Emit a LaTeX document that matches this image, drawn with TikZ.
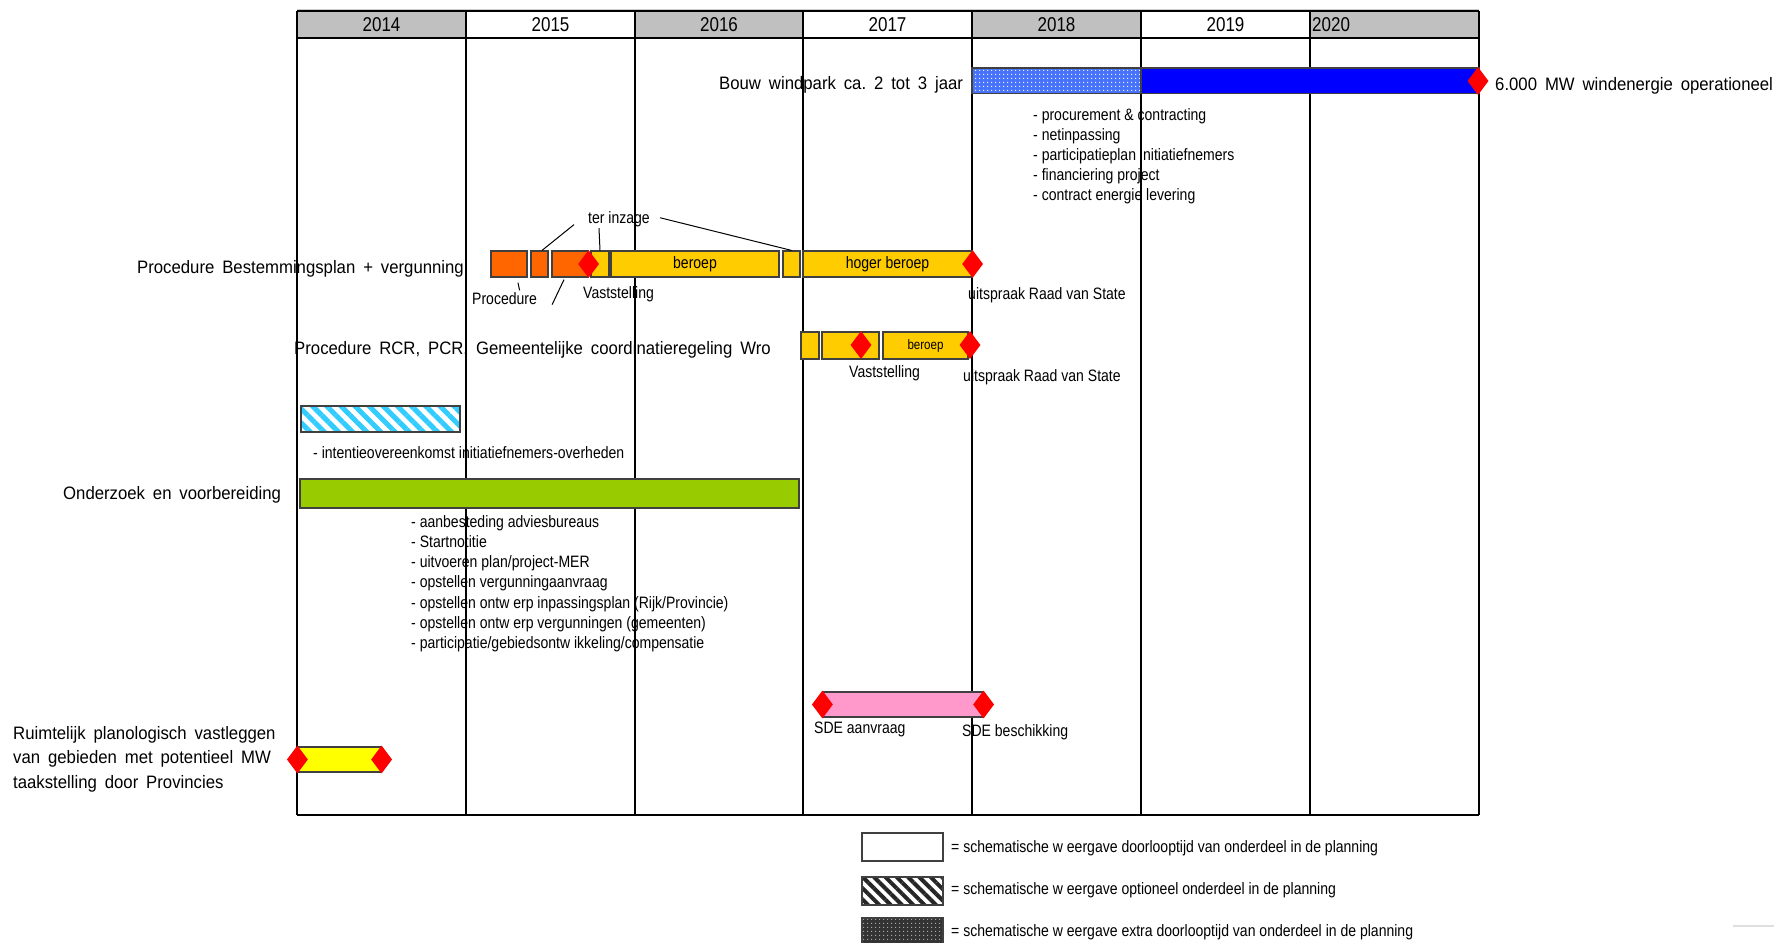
\documentclass[tikz,border=0pt]{standalone}
\usepackage{fontspec}
\setmainfont{Liberation Sans}[FakeStretch=0.85]
\newfontfamily\wideSans{Liberation Sans}[FakeStretch=0.93,WordSpace=1.7]
\usetikzlibrary{shapes.geometric,patterns,patterns.meta,calc}
\definecolor{procOrange}{RGB}{255,102,0}
\definecolor{procYellow}{RGB}{255,204,0}
\definecolor{studyGreen}{RGB}{153,204,0}
\definecolor{sdePink}{RGB}{255,153,204}
\definecolor{mapYellow}{RGB}{255,255,0}
\definecolor{buildBlue}{RGB}{0,0,255}
\definecolor{dotBlue}{RGB}{70,115,250}
\definecolor{hatchCyan}{RGB}{51,204,255}
\definecolor{headGray}{RGB}{192,192,192}
\newcommand\planSmall{\fontsize{16.5}{20}\selectfont}
\newcommand\planTiny{\fontsize{13.6}{16}\selectfont}
\newcommand\planYear{\fontsize{20}{24}\selectfont}
\newcommand\planLabel{\wideSans\fontsize{18}{24}\selectfont}
\frenchspacing

\begin{document}
\begin{tikzpicture}[x=1pt,y=-1pt,
    bar/.style={draw=black!75,line width=1.2pt,inner sep=0pt,font=\planSmall},
    mile/.style={diamond,fill=red,inner sep=0pt,minimum width=21pt,minimum height=28pt},
    txt/.style={font=\planSmall,inner sep=0pt,anchor=base west},
    lbl/.style={font=\planLabel,inner sep=0pt,anchor=base west},
    leader/.style={line width=1pt}]
    \useasboundingbox (0,0) rectangle (1774,942);
    % year header and grid
    \foreach \xa/\xb in {297/466,635/803,972/1141,1310/1479}
        \fill[headGray] (\xa,11) rectangle (\xb,38);
    \draw[gray!40] (297,9.5) -- (1479,9.5);
    \foreach \xa in {297,466,635,803,972,1141,1310,1479}
        \draw[line width=2pt] (\xa,11) -- (\xa,815);
    \draw[line width=1.6pt] (297,11) -- (1479,11);
    \draw[line width=2.6pt] (297,38) -- (1479,38) (297,815) -- (1479,815);
    \foreach \yr/\xa in {2014/381.5,2015/550.5,2016/719,2017/887.5,2018/1056.5,2019/1225.5}
        \node[font=\planYear,inner sep=0pt] (year\yr) at (\xa,24.3) {\yr};
    \node[font=\planYear,inner sep=0pt,anchor=west] (year2020) at (1312,24.3) {2020};

    % bouw windpark
    \node[bar,preaction={fill=dotBlue},pattern={Dots[distance=4pt,radius=0.8pt]},pattern color=white,
        minimum width=169pt,minimum height=25.5pt] (prep) at (1056.5,80.75) {};
    \node[bar,fill=buildBlue,minimum width=338pt,minimum height=25.5pt] (build) at (1310,80.75) {};
    \node[mile] (operMile) at (1478,81) {};
    \node[lbl] (bouw) at (719,89) {Bouw windpark ca. 2 tot 3 jaar};
    \node[lbl] (oper) at (1495,90) {6.000 MW windenergie operationeel};
    \foreach \t [count=\i from 0] in {- procurement \& contracting,- netinpassing,- participatieplan initiatiefnemers,- financiering project,- contract energie levering}
        \node[txt] (buildItem\i) at (1033,120.5+20*\i) {\t};

    % bestemmingsplan
    \node[lbl] (bpLabel) at (137,273) {Procedure Bestemmingsplan + vergunning};
    \node[bar,fill=procOrange,minimum width=36pt,minimum height=26pt] (or1) at (509,264) {};
    \node[bar,fill=procOrange,minimum width=17pt,minimum height=26pt] (or2) at (539.5,264) {};
    \node[bar,fill=procOrange,minimum width=36pt,minimum height=26pt] (or3) at (570,264) {};
    \node[bar,fill=procYellow,minimum width=18pt,minimum height=26pt] (yl1) at (600,264) {};
    \node[bar,fill=procYellow,minimum width=168pt,minimum height=26pt] (beroep) at (695,264) {beroep};
    \node[bar,fill=procYellow,minimum width=17pt,minimum height=26pt] (yl2) at (791.5,264) {};
    \node[bar,fill=procYellow,minimum width=169pt,minimum height=26pt] (hoger) at (887.5,264) {hoger beroep};
    \node[mile] (bpVast) at (or3.east) {};
    \node[mile] (bpRvs) at (hoger.east) {};
    \node[txt] (inzage) at (588,223) {ter inzage};
    \node[txt] (procLbl) at (472,304.5) {Procedure};
    \node[txt] (bpVastLbl) at (583,298.5) {Vaststelling};
    \node[txt] (bpRvsLbl) at (968,299) {uitspraak Raad van State};
    \draw[leader] ($(inzage.south west)+(-14,-2)$) -- ($(or2.north)+(2.5,0)$);
    \draw[leader] ($(inzage.south west)+(11,1.5)$) -- (yl1.north);
    \draw[leader] ($(inzage.east)+(10,-1)$) -- (yl2.north);
    \draw[leader] ($(or1.south)+(9,5)$) -- ($(procLbl.north)+(15,-2)$);
    \draw[leader] ($(or3.south)+(-6,2)$) -- ($(procLbl.east)+(15,6)$);

    % RCR / PCR
    \node[lbl] (rcrLabel) at (294,354) {Procedure RCR, PCR, Gemeentelijke coordinatieregeling Wro};
    \node[bar,fill=procYellow,minimum width=18pt,minimum height=27pt] (rc1) at (810,345.5) {};
    \node[bar,fill=procYellow,minimum width=57pt,minimum height=27pt] (rc2) at (850.5,345.5) {};
    \node[bar,fill=procYellow,minimum width=85pt,minimum height=27pt,font=\planTiny] (rc3) at (925.5,345.5) {beroep};
    \node[mile] (rcVast) at (861,345) {};
    \node[mile] (rcRvs) at (970,345) {};
    \node[txt] (rcVastLbl) at (849,377) {Vaststelling};
    \node[txt] (rcRvsLbl) at (963,381) {uitspraak Raad van State};

    % intentie + onderzoek
    \node[bar,preaction={fill=white},pattern={Lines[angle=-45,distance=10pt,line width=5pt]},pattern color=hatchCyan,
        minimum width=159pt,minimum height=26pt] (intentie) at (380.5,419) {};
    \node[txt] (intentieLbl) at (313,458) {- intentieovereenkomst initiatiefnemers-overheden};
    \node[lbl] (studyLabel) at (63,499) {Onderzoek en voorbereiding};
    \node[bar,fill=studyGreen,minimum width=499pt,minimum height=29pt] (study) at (549.5,493.5) {};
    \foreach \t [count=\i from 0] in {- aanbesteding adviesbureaus,- Startnotitie,- uitvoeren plan/project-MER,- opstellen vergunningaanvraag,- opstellen ontw erp inpassingsplan (Rijk/Provincie),- opstellen ontw erp vergunningen (gemeenten),- participatie/gebiedsontw ikkeling/compensatie}
        \node[txt] (studyItem\i) at (411,527.5+20.15*\i) {\t};

    % SDE
    \node[bar,fill=sdePink,minimum width=160pt,minimum height=25pt] (sde) at (903,704.5) {};
    \node[mile] (sdeStart) at (sde.west) {};
    \node[mile] (sdeEnd) at (sde.east) {};
    \node[txt] (sdeStartLbl) at (814,733.5) {SDE aanvraag};
    \node[txt] (sdeEndLbl) at (962,736) {SDE beschikking};

    % provincies
    \foreach \t [count=\i from 0] in {Ruimtelijk planologisch vastleggen,van gebieden met potentieel MW,taakstelling door Provincies}
        \node[lbl] (provLine\i) at (13,739.5+24.3*\i) {\t};
    \node[bar,fill=mapYellow,minimum width=83pt,minimum height=25pt] (prov) at (339.5,759.5) {};
    \node[mile] (provStart) at (prov.west) {};
    \node[mile] (provEnd) at (prov.east) {};

    % legend
    \node[bar,fill=white,line width=1.3pt,minimum width=81pt,minimum height=28pt] (keyPlain) at (902.5,847) {};
    \node[bar,preaction={fill=white},pattern={Lines[angle=-45,distance=8pt,line width=4pt]},pattern color=black!85,
        line width=1.3pt,minimum width=81pt,minimum height=28pt] (keyHatch) at (902.5,891) {};
    \node[bar,preaction={fill=black!80},pattern={Dots[distance=4pt,radius=0.8pt]},pattern color=black!30,
        line width=1.3pt,minimum width=81pt,minimum height=28pt] (keyDots) at (902.5,932) {};
    \node[txt] (keyPlainLbl) at (951,852.5) {= schematische w eergave doorlooptijd van onderdeel in de planning};
    \node[txt] (keyHatchLbl) at (951,894.5) {= schematische w eergave optioneel onderdeel in de planning};
    \node[txt] (keyDotsLbl) at (951,936.5) {= schematische w eergave extra doorlooptijd van onderdeel in de planning};
    \draw[gray!25,line width=2pt] (1733,926) -- (1774,926);
\end{tikzpicture}
\end{document}
